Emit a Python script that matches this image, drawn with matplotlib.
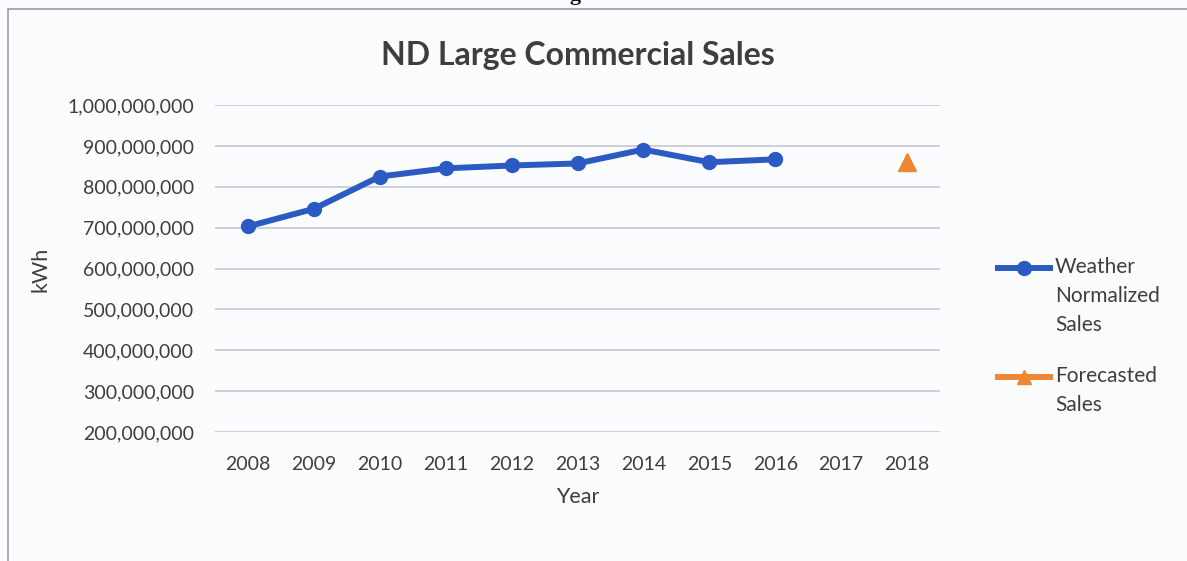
import matplotlib
matplotlib.use("Agg")
import matplotlib.pyplot as plt
from matplotlib.lines import Line2D
from matplotlib.patches import Rectangle
from matplotlib.ticker import FuncFormatter, MultipleLocator

years = ["2008", "2009", "2010", "2011", "2012", "2013", "2014", "2015", "2016", "2017", "2018"]
hist_years = ["2008", "2009", "2010", "2011", "2012", "2013", "2014", "2015", "2016"]
hist_sales = [703e6, 746e6, 825e6, 845e6, 852e6, 857e6, 891e6, 860e6, 867e6]
fc_years = ["2018"]
fc_sales = [861e6]

title = "ND Large Commercial Sales"
ylabel = "kWh"
xlabel = "Year"
label_hist = "Weather\nNormalized\nSales"
label_fc = "Forecasted\nSales"

FONT = ["Lato", "DejaVu Sans"]
plt.rcParams['font.family'] = FONT
TXT = "#3E3E3E"
BLUE = "#2B5BC2"
ORANGE = "#EE8733"
GRID = "#C9CBD8"

W, H = 1187, 561
fig = plt.figure(figsize=(W / 100, H / 100), dpi=100)
fig.patch.set_facecolor("#FBFCFE")

# chart border (cut off by scan at right and bottom)
fig.add_artist(Rectangle((8 / W, -0.05), 1.1, 1 - 9 / H + 0.05, transform=fig.transFigure,
                         fill=False, edgecolor="#9A9CA8", linewidth=1.2))
# cut-off caption at top
fig.text(590 / W, 1 + 5 / H, "Figure 6", ha="center", va="center", fontsize=16,
         fontweight="bold", family="Liberation Serif", color="#111111")

ax = fig.add_axes([215 / W, 1 - 432 / H, (940 - 215) / W, (432 - 105) / H])
ax.set_facecolor("none")
xi = {y: i for i, y in enumerate(years)}
ax.plot([xi[y] for y in hist_years], hist_sales, color=BLUE, lw=4.3, marker="o",
        markersize=10, zorder=3, label=label_hist, solid_capstyle="round")
ax.plot([xi[y] for y in fc_years], fc_sales, color=ORANGE, marker="^",
        markersize=13, linestyle="none", zorder=3, label=label_fc)

ax.set_xlim(-0.5, len(years) - 0.5)
ax.set_ylim(200e6, 1000e6)
ax.yaxis.set_major_locator(MultipleLocator(100e6))
ax.yaxis.set_major_formatter(FuncFormatter(lambda v, p: f"{v:,.0f}"))
ax.set_xticks(range(len(years)))
ax.set_xticklabels(years)
ax.grid(axis="y", color=GRID, lw=1.3)
ax.set_axisbelow(True)
for s in ax.spines.values():
    s.set_visible(False)
ax.tick_params(length=0, labelsize=14, labelcolor=TXT)
ax.tick_params(axis="y", pad=15)
ax.tick_params(axis="x", pad=17)

ax.set_title(title, fontsize=23, fontweight="bold", color=TXT, pad=0, y=1 + (105 - 55) / 327,
             va="center")
fig.text(40 / W, 1 - 269 / H, ylabel, rotation=90, ha="center", va="center",
         fontsize=15.5, color=TXT)
fig.text(578 / W, 1 - 497 / H, xlabel, ha="center", va="center", fontsize=15.5, color=TXT)

# legend
def legend_entry(yc, color, marker, ms, label):
    fig.add_artist(Line2D([998 / W, 1050 / W], [1 - yc / H] * 2, transform=fig.transFigure,
                          color=color, lw=4.3))
    fig.add_artist(Line2D([1024 / W], [1 - yc / H], transform=fig.transFigure,
                          color=color, marker=marker, markersize=ms, linestyle="none"))
    fig.text(1055 / W, 1 - (yc - 11) / H, label, ha="left", va="top", fontsize=15,
             color=TXT, linespacing=1.55)

legend_entry(268, BLUE, "o", 10, label_hist)
legend_entry(377, ORANGE, "^", 10, label_fc)

fig.savefig("out.png", dpi=100, facecolor=fig.get_facecolor())
